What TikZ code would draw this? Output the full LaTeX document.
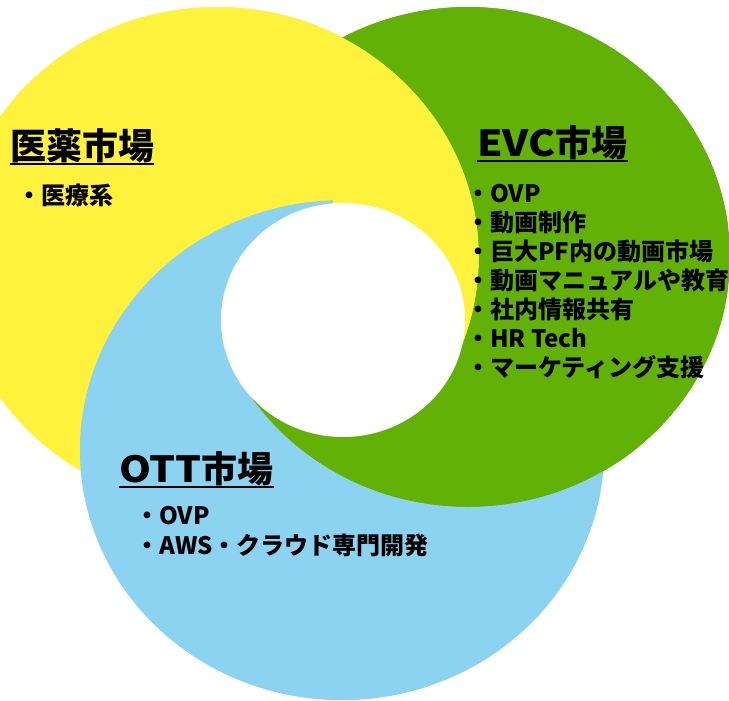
\documentclass[tikz,border=0pt]{standalone}
\usepackage{graphicx}
\usepackage{fontspec}
\setmainfont{Noto Sans CJK JP}
\definecolor{ylwc}{HTML}{FFF23C}
\definecolor{grnc}{HTML}{62B106}
\definecolor{bluc}{HTML}{8BD3F1}
\tikzset{
  ring/.style={x radius=262, y radius=250},
  hole/.style={x radius=122, y radius=117},
  title/.style={inner sep=0pt, font=\fontsize{36}{40}\selectfont\bfseries, anchor=base west},
  item/.style={inner sep=0pt, font=\fontsize{24}{29}\selectfont\bfseries, anchor=base west},
  uline/.style={line width=2pt, black}
}
% wider latin letters in the headings
\newcommand{\widelatin}[1]{\scalebox{1.13}[1]{#1}}
% fill the three rings inside one wedge round the centre, bottom ring first
\newcommand{\ringwedge}[5]{%
  \begin{scope}
    \clip (cW) -- +(#1:2000) -- +({(#1+#2)/2}:2000) -- +(#2:2000) -- cycle;
    \fill[#3] (c#3) ellipse [ring];
    \fill[#4] (c#4) ellipse [ring];
    \fill[#5] (c#5) ellipse [ring];
  \end{scope}}
% part of ring #1 lying outside ring #2, in the colour of ring #1
\newcommand{\ringonly}[2]{%
  \begin{scope}
    \clip (c#1) ellipse [ring];
    \fill[#1, even odd rule] (-100,-100) rectangle (900,900) (c#2) ellipse [ring];
  \end{scope}}
\begin{document}
\begin{tikzpicture}[x=1pt, y=-1pt]
\useasboundingbox (0,0) rectangle (729,701);
\colorlet{Y}{ylwc}\colorlet{G}{grnc}\colorlet{B}{bluc}
\coordinate (cY) at (217,257);
\coordinate (cG) at (468,257);
\coordinate (cB) at (342,450);
\coordinate (cW) at (343,320);

% interlocking rings: each one passes over the next
\ringwedge{-99}{27}{B}{G}{Y}
\ringwedge{23}{150}{Y}{B}{G}
\ringwedge{146}{265}{G}{Y}{B}
% the two-ring overlaps, painted in one piece each
\ringonly{Y}{B}
\ringonly{G}{Y}
\ringonly{B}{G}
\fill[white] (cW) ellipse [hole];

% pharma market
\node[title] (tY) at (10,160) {医薬市場};
\draw[uline] ([yshift=-3.5pt]tY.base west) -- ([yshift=-3.5pt]tY.base east);
\node[item] (lY) at (17,204) {・医療系};

% EVC market
\node[title] (tG) at (477,156) {\widelatin{EVC}市場};
\draw[uline] ([yshift=-4.5pt]tG.base west) -- ([yshift=-4.5pt]tG.base east);
\foreach \t [count=\i from 0] in {OVP, 動画制作, 巨大PF内の動画市場, 動画マニュアルや教育, 社内情報共有, HR Tech, マーケティング支援}
  \node[item] (lG\i) at (466,{202+29*\i}) {・\t};

% OTT market
\node[title] (tB) at (119,482) {\widelatin{OTT}市場};
\draw[uline] ([yshift=-5pt]tB.base west) -- ([yshift=-5pt]tB.base east);
\node[item] (lB0) at (135,524) {・OVP};
\node[item] (lB1) at (135,554) {・AWS・クラウド専門開発};
\end{tikzpicture}
\end{document}
